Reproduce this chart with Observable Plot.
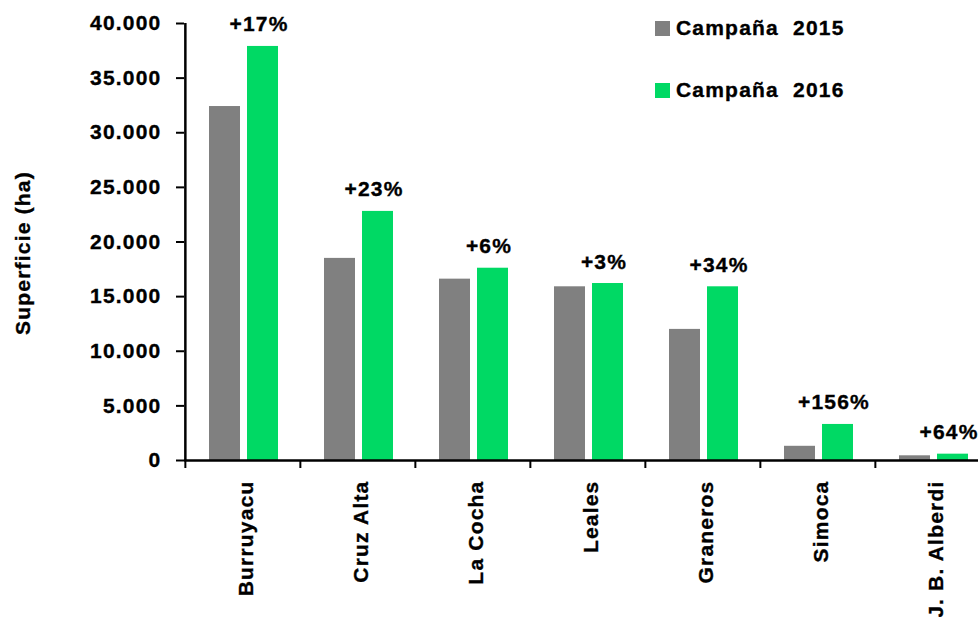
<!DOCTYPE html>
<html>
<head>
<meta charset="utf-8">
<script src="https://cdn.jsdelivr.net/npm/d3@7"></script>
<script src="https://cdn.jsdelivr.net/npm/@observablehq/plot@0.6"></script>
<style>
  html, body { margin: 0; padding: 0; background: #fff; overflow: hidden; }
  #wrap { position: relative; width: 978px; height: 617px; overflow: hidden; }
  #wrap svg { max-width: none !important; }
  #wrap svg text { stroke: #000; stroke-width: 0.35px; }
  .lg { position: absolute; left: 655px; font-family: "Liberation Sans", Arial, sans-serif; font-weight: bold; font-size: 21px; letter-spacing: 1.2px; color: #000; display: flex; align-items: center; white-space: pre; -webkit-text-stroke: 0.35px #000; }
  .sw { width: 15px; height: 15px; margin-right: 6px; }
</style>
</head>
<body>
<div id="wrap"></div>
<script>
const categories = ["Burruyacu", "Cruz Alta", "La Cocha", "Leales", "Graneros", "Simoca", "J. B. Alberdi"];
const v2015 = [32400, 18500, 16600, 15900, 12000, 1300, 430];
const v2016 = [37900, 22800, 17600, 16200, 15900, 3300, 580];
const changes = ["+17%", "+23%", "+6%", "+3%", "+34%", "+156%", "+64%"];
const yTicks = [0, 5000, 10000, 15000, 20000, 25000, 30000, 35000, 40000];
const seriesNames = ["Campaña  2015", "Campaña  2016"];
const colors = ["#808080", "#00D964"];

const data = categories.map((c, i) => ({cat: c, v15: v2015[i], v16: v2016[i], pct: changes[i]}));
const fmt = d => d3.format(",")(d).replace(/,/g, ".");

const W = 995, ML = 184, MR = 4;
const step = (W - ML - MR) / categories.length;

const chart = Plot.plot({
  width: W, height: 617,
  marginLeft: ML, marginRight: MR, marginTop: 23, marginBottom: 157,
  style: {fontFamily: "'Liberation Sans', Arial, sans-serif", fontWeight: "bold", fontSize: "21px", letterSpacing: "1.2px", color: "#000", background: "#fff", overflow: "visible", maxWidth: "none"},
  x: {domain: categories, padding: 0, axis: null},
  y: {domain: [0, 40000], axis: null},
  marks: [
    Plot.barY(data, {x: "cat", y: "v15", fill: colors[0], insetLeft: 24, insetRight: 60}),
    Plot.barY(data, {x: "cat", y: "v16", fill: colors[1], insetLeft: 62, insetRight: 22}),
    Plot.text(data, {x: "cat", y: "v16", text: "pct", dx: 16, dy: -15, lineAnchor: "bottom"}),
    Plot.axisY({ticks: yTicks, tickSize: 8, tickPadding: 15, tickFormat: fmt, label: null, strokeWidth: 2}),
    Plot.ruleX([categories[0]], {x: d => d, dx: -step / 2, y1: 0, y2: 40000, strokeWidth: 2.5}),
    Plot.ruleY([0], {strokeWidth: 2.5}),
    Plot.axisX({tickSize: 8, tickFormat: () => "", dx: -step / 2, label: null, strokeWidth: 2}),
    Plot.axisX({tickSize: 0, tickPadding: 20, tickRotate: -90, label: null, dx: 3}),
    Plot.text(["Superficie (ha)"], {frameAnchor: "left", textAnchor: "middle", text: d => d, rotate: -90, dx: -161, dy: 11, fontSize: 21})
  ]
});
const wrap = document.getElementById("wrap");
wrap.appendChild(chart);
seriesNames.forEach((n, i) => {
  const d = document.createElement("div");
  d.className = "lg";
  d.style.top = (i === 0 ? 16 : 78) + "px";
  const s = document.createElement("span");
  s.className = "sw";
  s.style.background = colors[i];
  d.appendChild(s);
  d.appendChild(document.createTextNode(n));
  wrap.appendChild(d);
});
</script>
</body>
</html>
